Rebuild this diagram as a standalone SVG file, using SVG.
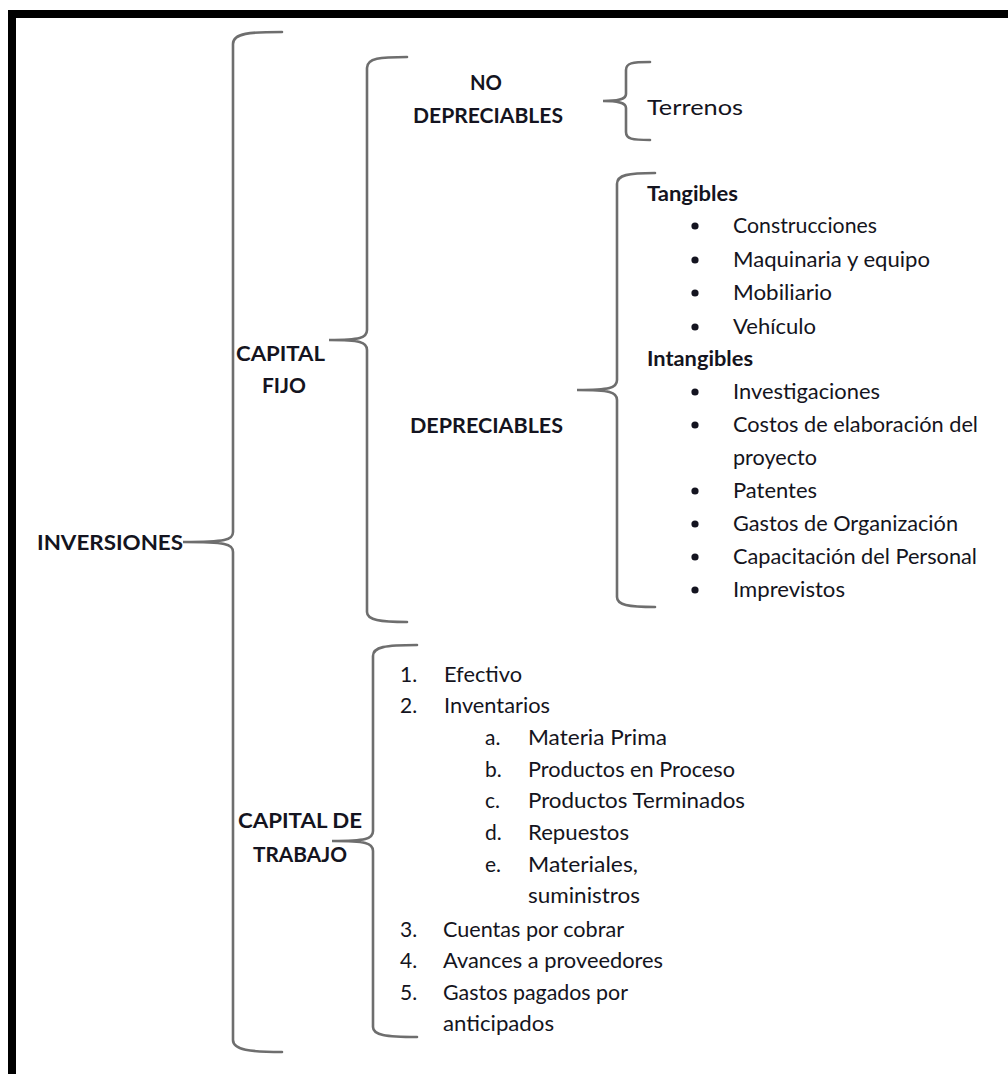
<svg xmlns="http://www.w3.org/2000/svg" width="1008" height="1074" viewBox="0 0 1008 1074">
<style>
.t{font-family:Lato,"Open Sans","Liberation Sans",sans-serif;font-size:21px;fill:#141420}
.b{font-weight:700}
.br{fill:none;stroke:#6e6e6e;stroke-width:2.6;stroke-linecap:round}
.dot{fill:#141420}
</style>
<rect width="1008" height="1074" fill="#fff"/>
<g id="frame">
<rect x="8" y="10" width="1000" height="8" fill="#000"/>
<rect x="8" y="10" width="8" height="1064" fill="#000"/>
</g>
<g id="connectors">
<path class="br" d="M282,32 C250,32 233,33 233,44 L233,532 C233,540 226,542 183,542 C226,542 233,544 233,552 L233,1040 C233,1050 250,1052 282,1052"/>
<path class="br" d="M407,57 C380,57 367,58 367,68 L367,330 C367,338 360,340 329,340 C360,340 367,342 367,350 L367,612 C367,620 380,622 407,622"/>
<path class="br" d="M650,62 C632,62 626,63 626,70 L626,94 C626,99 620,101 603,101 C620,101 626,103 626,108 L626,132 C626,139 632,140 650,140"/>
<path class="br" d="M655,173 C628,173 617,175 617,184 L617,380 C617,388 610,390 577,390 C610,390 617,392 617,400 L617,597 C617,605 628,607 655,607"/>
<path class="br" d="M417,645 C385,645 373,647 373,656 L373,831 C373,839 366,841 332,841 C366,841 373,843 373,851 L373,1027 C373,1035 385,1037 417,1037"/>
</g>
<g id="n-inversiones"><text class="t b" x="37" y="550" textLength="146" lengthAdjust="spacingAndGlyphs">INVERSIONES</text></g>
<g id="n-capital-fijo">
<text class="t b" x="236" y="361" textLength="89" lengthAdjust="spacingAndGlyphs">CAPITAL</text>
<text class="t b" x="262" y="393" textLength="44" lengthAdjust="spacingAndGlyphs">FIJO</text>
</g>
<g id="n-no-depreciables">
<text class="t b" x="470" y="90" textLength="32" lengthAdjust="spacingAndGlyphs">NO</text>
<text class="t b" x="413" y="123" textLength="150" lengthAdjust="spacingAndGlyphs">DEPRECIABLES</text>
</g>
<g id="n-terrenos"><text class="t" x="647" y="115" textLength="96" lengthAdjust="spacingAndGlyphs">Terrenos</text></g>
<g id="n-depreciables"><text class="t b" x="410" y="433" textLength="153" lengthAdjust="spacingAndGlyphs">DEPRECIABLES</text></g>
<g id="n-depreciables-list">
<text class="t b" x="647" y="201" textLength="91" lengthAdjust="spacingAndGlyphs">Tangibles</text>
<circle class="dot" cx="695" cy="226" r="3.6"/><text class="t" x="733" y="233" textLength="144" lengthAdjust="spacingAndGlyphs">Construcciones</text>
<circle class="dot" cx="695" cy="260" r="3.6"/><text class="t" x="733" y="267" textLength="197" lengthAdjust="spacingAndGlyphs">Maquinaria y equipo</text>
<circle class="dot" cx="695" cy="293" r="3.6"/><text class="t" x="733" y="300" textLength="99" lengthAdjust="spacingAndGlyphs">Mobiliario</text>
<circle class="dot" cx="695" cy="327" r="3.6"/><text class="t" x="733" y="334" textLength="83" lengthAdjust="spacingAndGlyphs">Vehículo</text>
<text class="t b" x="647" y="366" textLength="106" lengthAdjust="spacingAndGlyphs">Intangibles</text>
<circle class="dot" cx="695" cy="392" r="3.6"/><text class="t" x="733" y="399" textLength="147" lengthAdjust="spacingAndGlyphs">Investigaciones</text>
<circle class="dot" cx="695" cy="425" r="3.6"/><text class="t" x="733" y="432" textLength="245" lengthAdjust="spacingAndGlyphs">Costos de elaboración del</text>
<text class="t" x="733" y="465" textLength="84" lengthAdjust="spacingAndGlyphs">proyecto</text>
<circle class="dot" cx="695" cy="491" r="3.6"/><text class="t" x="733" y="498" textLength="84" lengthAdjust="spacingAndGlyphs">Patentes</text>
<circle class="dot" cx="695" cy="524" r="3.6"/><text class="t" x="733" y="531" textLength="225" lengthAdjust="spacingAndGlyphs">Gastos de Organización</text>
<circle class="dot" cx="695" cy="557" r="3.6"/><text class="t" x="733" y="564" textLength="244" lengthAdjust="spacingAndGlyphs">Capacitación del Personal</text>
<circle class="dot" cx="695" cy="590" r="3.6"/><text class="t" x="733" y="597" textLength="112" lengthAdjust="spacingAndGlyphs">Imprevistos</text>
</g>
<g id="n-capital-trabajo">
<text class="t b" x="238" y="828" textLength="124" lengthAdjust="spacingAndGlyphs">CAPITAL DE</text>
<text class="t b" x="253" y="862" textLength="94" lengthAdjust="spacingAndGlyphs">TRABAJO</text>
</g>
<g id="n-capital-trabajo-list">
<text class="t" x="400" y="682">1.</text><text class="t" x="444" y="682" textLength="78" lengthAdjust="spacingAndGlyphs">Efectivo</text>
<text class="t" x="400" y="713">2.</text><text class="t" x="444" y="713" textLength="106" lengthAdjust="spacingAndGlyphs">Inventarios</text>
<text class="t" x="485" y="745">a.</text><text class="t" x="528" y="745" textLength="139" lengthAdjust="spacingAndGlyphs">Materia Prima</text>
<text class="t" x="485" y="777">b.</text><text class="t" x="528" y="777" textLength="207" lengthAdjust="spacingAndGlyphs">Productos en Proceso</text>
<text class="t" x="485" y="808">c.</text><text class="t" x="528" y="808" textLength="217" lengthAdjust="spacingAndGlyphs">Productos Terminados</text>
<text class="t" x="485" y="840">d.</text><text class="t" x="528" y="840" textLength="101" lengthAdjust="spacingAndGlyphs">Repuestos</text>
<text class="t" x="485" y="872">e.</text><text class="t" x="528" y="872" textLength="110" lengthAdjust="spacingAndGlyphs">Materiales,</text>
<text class="t" x="528" y="903" textLength="112" lengthAdjust="spacingAndGlyphs">suministros</text>
<text class="t" x="400" y="937">3.</text><text class="t" x="443" y="937" textLength="181" lengthAdjust="spacingAndGlyphs">Cuentas por cobrar</text>
<text class="t" x="400" y="968">4.</text><text class="t" x="443" y="968" textLength="220" lengthAdjust="spacingAndGlyphs">Avances a proveedores</text>
<text class="t" x="400" y="1000">5.</text><text class="t" x="443" y="1000" textLength="185" lengthAdjust="spacingAndGlyphs">Gastos pagados por</text>
<text class="t" x="443" y="1031" textLength="111" lengthAdjust="spacingAndGlyphs">anticipados</text>
</g>
</svg>
